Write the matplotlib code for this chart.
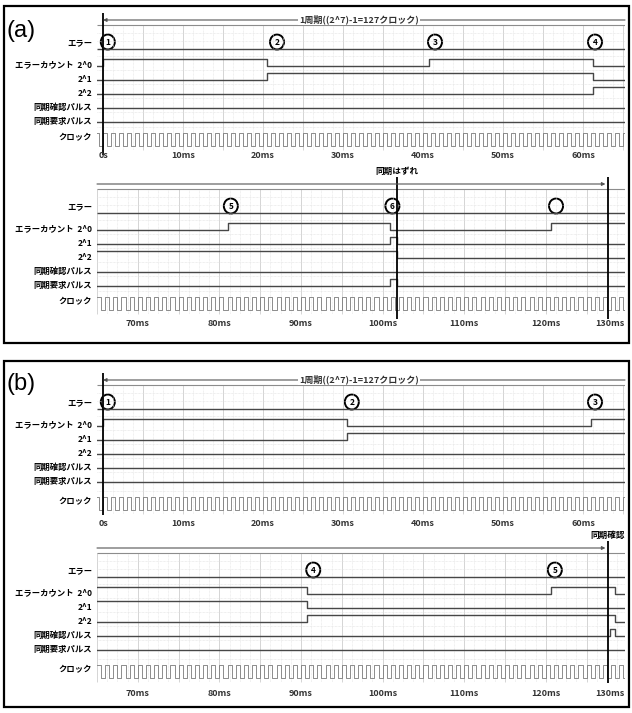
import numpy as np
import matplotlib.pyplot as plt
from matplotlib.patches import Ellipse, Rectangle

plt.rcParams['font.family'] = ['Noto Sans CJK JP', 'DejaVu Sans']

# 行ラベル
row_names = ['エラーカウント  2^0', '2^1', '2^2', '同期確認パルス', '同期要求パルス']

# 目盛り
top_ticks = [0, 10, 20, 30, 40, 50, 60]
top_tick_labels = ['0s', '10ms', '20ms', '30ms', '40ms', '50ms', '60ms']
bot_ticks = [70, 80, 90, 100, 110, 120, 130]
bot_tick_labels = ['70ms', '80ms', '90ms', '100ms', '110ms', '120ms', '130ms']

clock_period = 1.0      # ms
sync_period_end = 127.6  # 1周期の終わり(ms)
period_text = '1周期((2^7)-1=127クロック)'

# ---- (a) 上段 ----
a1_err_t = [0.6, 21.75, 41.5, 61.5]
a1_err_lbl = ['1', '2', '3', '4']
a1_b0_t, a1_b0_v = [0.0, 20.5, 40.75, 61.25], [0, 1, 0, 1, 0]
a1_b1_t, a1_b1_v = [20.5, 61.25], [0, 1, 0]
a1_b2_t, a1_b2_v = [61.25], [0, 1]
a1_chk_t, a1_chk_v = [], [0]
a1_req_t, a1_req_v = [], [0]

# ---- (a) 下段 ----
a2_err_t = [81.4, 101.2, 121.25]
a2_err_lbl = ['5', '6', '']
a2_b0_t, a2_b0_v = [81.1, 100.9, 120.65], [0, 1, 0, 1]
a2_b1_t, a2_b1_v = [100.9, 101.8], [0, 1, 0]
a2_b2_t, a2_b2_v = [101.8], [1, 0]
a2_chk_t, a2_chk_v = [], [0]
a2_req_t, a2_req_v = [100.9, 101.8], [0, 1, 0]
a2_sync_t = [101.8, 127.6]
a2_sync_lbl = ['同期はずれ', '']

# ---- (b) 上段 ----
b1_err_t = [0.6, 31.1, 61.5]
b1_err_lbl = ['1', '2', '3']
b1_b0_t, b1_b0_v = [0.0, 30.5, 61.0], [0, 1, 0, 1]
b1_b1_t, b1_b1_v = [30.5], [0, 1]
b1_b2_t, b1_b2_v = [], [0]
b1_chk_t, b1_chk_v = [], [0]
b1_req_t, b1_req_v = [], [0]

# ---- (b) 下段 ----
b2_err_t = [91.5, 121.1]
b2_err_lbl = ['4', '5']
b2_b0_t, b2_b0_v = [90.75, 120.65, 128.5], [1, 0, 1, 0]
b2_b1_t, b2_b1_v = [90.75], [1, 0]
b2_b2_t, b2_b2_v = [90.75, 128.5], [0, 1, 0]
b2_chk_t, b2_chk_v = [127.9, 128.5], [0, 1, 0]
b2_req_t, b2_req_v = [], [0]
b2_sync_t = [127.6]
b2_sync_lbl = ['同期確認']

W, H = 632, 713
fig = plt.figure(figsize=(W / 100, H / 100), dpi=100)

sig_col = '#474747'


def panel(off, xlim, ck, tick_y, ticks, tick_labels, err_t, err_lbl, sigs,
          sync_t, sync_lbl, top):
    ax = fig.add_axes([97 / W, 1 - (off + 160) / H, 528 / W, 152 / H])
    ax.set_xlim(*xlim)
    ax.set_ylim(off + 160, off + 8)
    ax.axis('off')
    pxms = (xlim[1] - xlim[0]) / 528.0

    def y(v):
        return off + v

    # グリッド
    g = np.arange(np.ceil(xlim[0] / 1.25) * 1.25, xlim[1], 1.25)
    ax.vlines(g, y(25), y(150 + ck), color='#e3e3e3', lw=0.5, ls=(0, (1, 1)))
    g5 = np.arange(np.ceil(xlim[0] / 5) * 5, xlim[1], 5)
    ax.vlines(g5, y(25), y(150 + ck), color='#d0d0d0', lw=0.6)
    for hy in [33, 41, 56, 70, 84, 98, 112, 127 + ck]:
        ax.hlines(y(hy), *xlim, color='#e0e0e0', lw=0.5, ls=(0, (1, 1)))
    ax.hlines(y(25), *xlim, color='#8c8c8c', lw=0.8)

    # 1周期の矢印
    if top:
        ax.annotate('', xy=(0, y(20)), xytext=(xlim[1], y(20)),
                    arrowprops=dict(arrowstyle='-|>', color='#555555', lw=0.8,
                                    mutation_scale=5, shrinkA=0, shrinkB=0))
        ax.text(32, y(19), period_text, fontsize=6.5, fontweight='bold',
                ha='center', va='center', color='#333333',
                bbox=dict(fc='white', ec='none', pad=1))
    else:
        ax.annotate('', xy=(sync_period_end - 0.3, y(20)), xytext=(xlim[0], y(20)),
                    arrowprops=dict(arrowstyle='-|>', color='#555555', lw=0.8,
                                    mutation_scale=5, shrinkA=0, shrinkB=0))

    # エラー行
    ax.hlines(y(49), *xlim, color=sig_col, lw=1.0)
    for t, lb in zip(err_t, err_lbl):
        ax.add_patch(Ellipse((t, y(42)), 14 * pxms, 15, fill=False,
                             ec='black', lw=1.4))
        ax.text(t, y(42.5), lb, fontsize=6, fontweight='bold',
                ha='center', va='center')
    ax.annotate('エラー', xy=(0, y(43)), xycoords=('axes fraction', 'data'),
                xytext=(-5, 0), textcoords='offset pixels', ha='right',
                va='center', fontsize=6, fontweight='bold')

    # カウンタ・パルス
    lows = [66, 80, 94, 108, 122]
    for (ts, vs), lo, name in zip(sigs, lows, row_names):
        xs = [xlim[0]] + list(ts) + [xlim[1]]
        ys = [y(lo - 7 * v) for v in vs] + [y(lo - 7 * vs[-1])]
        ax.plot(xs, ys, drawstyle='steps-post', color=sig_col, lw=1.0)
        ax.annotate(name, xy=(0, y(lo - 1)), xycoords=('axes fraction', 'data'),
                    xytext=(-5, 0), textcoords='offset pixels', ha='right',
                    va='center', fontsize=6, fontweight='bold')

    # クロック
    half = clock_period / 2
    e = np.arange(np.floor(xlim[0] / half) * half, xlim[1], half)
    lvl = (np.round(e / half) % 2 == 0).astype(int)
    cx = np.append(e, xlim[1])
    cy = np.append(y(146 + ck) - 13 * lvl, y(146 + ck) - 13 * lvl[-1])
    ax.plot(cx, cy, drawstyle='steps-post', color='#7a7a7a', lw=0.6)
    ax.annotate('クロック', xy=(0, y(137.5 + ck)), xycoords=('axes fraction', 'data'),
                xytext=(-5, 0), textcoords='offset pixels', ha='right',
                va='center', fontsize=6, fontweight='bold')

    # 縦線
    for t, lb in zip(sync_t, sync_lbl):
        ax.vlines(t, y(13), y(155), color='black', lw=1.3, clip_on=False)
        if lb:
            ax.text(t, y(7), lb, fontsize=6.2, fontweight='bold',
                    ha='center', va='center')

    # 目盛りラベル
    for t, lb in zip(ticks, tick_labels):
        if t > xlim[1]:
            ax.text(xlim[1], tick_y, lb, fontsize=6.5, fontweight='bold',
                    ha='right', va='center', color='#333333')
        else:
            ax.text(t, tick_y, lb, fontsize=6.5, fontweight='bold',
                    ha='center', va='center', color='#333333')
    return ax


top_lim = (-0.75, 65.25)
bot_lim = (65.0, 129.7)

panel(0, top_lim, 0, 156, top_ticks, top_tick_labels, a1_err_t, a1_err_lbl,
      [(a1_b0_t, a1_b0_v), (a1_b1_t, a1_b1_v), (a1_b2_t, a1_b2_v),
       (a1_chk_t, a1_chk_v), (a1_req_t, a1_req_v)], [0], [''], True)
panel(164, bot_lim, 0, 324, bot_ticks, bot_tick_labels, a2_err_t, a2_err_lbl,
      [(a2_b0_t, a2_b0_v), (a2_b1_t, a2_b1_v), (a2_b2_t, a2_b2_v),
       (a2_chk_t, a2_chk_v), (a2_req_t, a2_req_v)], a2_sync_t, a2_sync_lbl, False)
panel(360, top_lim, 4, 524, top_ticks, top_tick_labels, b1_err_t, b1_err_lbl,
      [(b1_b0_t, b1_b0_v), (b1_b1_t, b1_b1_v), (b1_b2_t, b1_b2_v),
       (b1_chk_t, b1_chk_v), (b1_req_t, b1_req_v)], [0], [''], True)
panel(528, bot_lim, 4, 693, bot_ticks, bot_tick_labels, b2_err_t, b2_err_lbl,
      [(b2_b0_t, b2_b0_v), (b2_b1_t, b2_b1_v), (b2_b2_t, b2_b2_v),
       (b2_chk_t, b2_chk_v), (b2_req_t, b2_req_v)], b2_sync_t, b2_sync_lbl, False)

# 枠
fig.add_artist(Rectangle((4 / W, 1 - 343 / H), 625 / W, 337 / H,
                         transform=fig.transFigure, fill=False, lw=1.6, ec='black'))
fig.add_artist(Rectangle((4 / W, 1 - 707 / H), 625 / W, 346 / H,
                         transform=fig.transFigure, fill=False, lw=1.6, ec='black'))
fig.text(7 / W, 1 - 31 / H, '(a)', fontsize=17, family='Liberation Sans', va='center')
fig.text(7 / W, 1 - 384 / H, '(b)', fontsize=17, family='Liberation Sans', va='center')

fig.savefig('out.png', dpi=100)
